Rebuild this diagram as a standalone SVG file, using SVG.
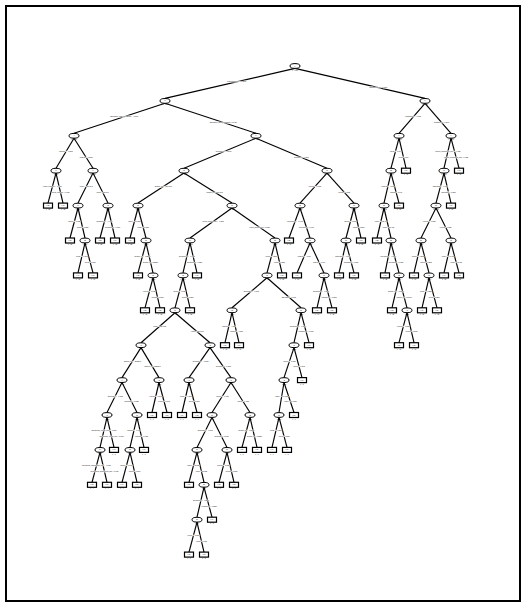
<svg xmlns="http://www.w3.org/2000/svg" width="523" height="604" viewBox="0 0 523 604">
<style>
.c line{stroke:#000;stroke-width:1.15}
.n ellipse{fill:#fff;stroke:#000;stroke-width:1}
.l rect{fill:#fff;stroke:#000;stroke-width:1.2}
text{font-family:"Liberation Sans",Arial,sans-serif;font-size:1.5px;text-anchor:middle;fill:#000}
.lb text{stroke:#fff;stroke-width:0.6;paint-order:stroke}
</style>
<rect x="0" y="0" width="523" height="604" fill="#fff"/>
<rect x="6" y="6" width="514" height="595" fill="none" stroke="#000" stroke-width="2"/>
<g id="connectors" class="c">
<line x1="295" y1="68.4" x2="165" y2="98.4"/><line x1="295" y1="68.4" x2="425" y2="98.4"/>
<line x1="165" y1="103.3" x2="74" y2="133.3"/><line x1="165" y1="103.3" x2="256" y2="133.3"/>
<line x1="425" y1="103.3" x2="399" y2="133.3"/><line x1="425" y1="103.3" x2="451" y2="133.3"/>
<line x1="74" y1="138.2" x2="56" y2="168.2"/><line x1="74" y1="138.2" x2="93" y2="168.2"/>
<line x1="256" y1="138.2" x2="184" y2="168.2"/><line x1="256" y1="138.2" x2="327" y2="168.2"/>
<line x1="399" y1="138.2" x2="391" y2="168.2"/><line x1="399" y1="138.2" x2="406" y2="168.2"/>
<line x1="451" y1="138.2" x2="444" y2="168.2"/><line x1="451" y1="138.2" x2="459" y2="168.2"/>
<line x1="56" y1="173.1" x2="48" y2="203.1"/><line x1="56" y1="173.1" x2="63" y2="203.1"/>
<line x1="93" y1="173.1" x2="78" y2="203.1"/><line x1="93" y1="173.1" x2="108" y2="203.1"/>
<line x1="184" y1="173.1" x2="138" y2="203.1"/><line x1="184" y1="173.1" x2="232" y2="203.1"/>
<line x1="327" y1="173.1" x2="300" y2="203.1"/><line x1="327" y1="173.1" x2="354" y2="203.1"/>
<line x1="391" y1="173.1" x2="384" y2="203.1"/><line x1="391" y1="173.1" x2="399" y2="203.1"/>
<line x1="444" y1="173.1" x2="436" y2="203.1"/><line x1="444" y1="173.1" x2="451" y2="203.1"/>
<line x1="78" y1="208" x2="70" y2="238"/><line x1="78" y1="208" x2="85" y2="238"/>
<line x1="108" y1="208" x2="100" y2="238"/><line x1="108" y1="208" x2="115" y2="238"/>
<line x1="138" y1="208" x2="130" y2="238"/><line x1="138" y1="208" x2="146" y2="238"/>
<line x1="232" y1="208" x2="190" y2="238"/><line x1="232" y1="208" x2="275" y2="238"/>
<line x1="300" y1="208" x2="289" y2="238"/><line x1="300" y1="208" x2="310" y2="238"/>
<line x1="354" y1="208" x2="346" y2="238"/><line x1="354" y1="208" x2="361" y2="238"/>
<line x1="384" y1="208" x2="377" y2="238"/><line x1="384" y1="208" x2="391" y2="238"/>
<line x1="436" y1="208" x2="421" y2="238"/><line x1="436" y1="208" x2="451" y2="238"/>
<line x1="85" y1="242.9" x2="78" y2="272.9"/><line x1="85" y1="242.9" x2="93" y2="272.9"/>
<line x1="146" y1="242.9" x2="138" y2="272.9"/><line x1="146" y1="242.9" x2="153" y2="272.9"/>
<line x1="190" y1="242.9" x2="183" y2="272.9"/><line x1="190" y1="242.9" x2="197" y2="272.9"/>
<line x1="275" y1="242.9" x2="267" y2="272.9"/><line x1="275" y1="242.9" x2="282" y2="272.9"/>
<line x1="310" y1="242.9" x2="297" y2="272.9"/><line x1="310" y1="242.9" x2="324" y2="272.9"/>
<line x1="346" y1="242.9" x2="339" y2="272.9"/><line x1="346" y1="242.9" x2="354" y2="272.9"/>
<line x1="391" y1="242.9" x2="385" y2="272.9"/><line x1="391" y1="242.9" x2="399" y2="272.9"/>
<line x1="421" y1="242.9" x2="414" y2="272.9"/><line x1="421" y1="242.9" x2="429" y2="272.9"/>
<line x1="451" y1="242.9" x2="444" y2="272.9"/><line x1="451" y1="242.9" x2="459" y2="272.9"/>
<line x1="153" y1="277.8" x2="145" y2="307.8"/><line x1="153" y1="277.8" x2="160" y2="307.8"/>
<line x1="183" y1="277.8" x2="175" y2="307.8"/><line x1="183" y1="277.8" x2="190" y2="307.8"/>
<line x1="267" y1="277.8" x2="232" y2="307.8"/><line x1="267" y1="277.8" x2="301" y2="307.8"/>
<line x1="324" y1="277.8" x2="317" y2="307.8"/><line x1="324" y1="277.8" x2="332" y2="307.8"/>
<line x1="399" y1="277.8" x2="392" y2="307.8"/><line x1="399" y1="277.8" x2="407" y2="307.8"/>
<line x1="429" y1="277.8" x2="422" y2="307.8"/><line x1="429" y1="277.8" x2="437" y2="307.8"/>
<line x1="175" y1="312.7" x2="141" y2="342.7"/><line x1="175" y1="312.7" x2="210" y2="342.7"/>
<line x1="232" y1="312.7" x2="225" y2="342.7"/><line x1="232" y1="312.7" x2="239" y2="342.7"/>
<line x1="301" y1="312.7" x2="294" y2="342.7"/><line x1="301" y1="312.7" x2="309" y2="342.7"/>
<line x1="407" y1="312.7" x2="399" y2="342.7"/><line x1="407" y1="312.7" x2="414" y2="342.7"/>
<line x1="141" y1="347.6" x2="122" y2="377.6"/><line x1="141" y1="347.6" x2="159" y2="377.6"/>
<line x1="210" y1="347.6" x2="189" y2="377.6"/><line x1="210" y1="347.6" x2="231" y2="377.6"/>
<line x1="294" y1="347.6" x2="284" y2="377.6"/><line x1="294" y1="347.6" x2="302" y2="377.6"/>
<line x1="122" y1="382.5" x2="107" y2="412.5"/><line x1="122" y1="382.5" x2="137" y2="412.5"/>
<line x1="159" y1="382.5" x2="152" y2="412.5"/><line x1="159" y1="382.5" x2="167" y2="412.5"/>
<line x1="189" y1="382.5" x2="182" y2="412.5"/><line x1="189" y1="382.5" x2="197" y2="412.5"/>
<line x1="231" y1="382.5" x2="212" y2="412.5"/><line x1="231" y1="382.5" x2="250" y2="412.5"/>
<line x1="284" y1="382.5" x2="279" y2="412.5"/><line x1="284" y1="382.5" x2="294" y2="412.5"/>
<line x1="107" y1="417.4" x2="100" y2="447.4"/><line x1="107" y1="417.4" x2="114" y2="447.4"/>
<line x1="137" y1="417.4" x2="130" y2="447.4"/><line x1="137" y1="417.4" x2="144" y2="447.4"/>
<line x1="212" y1="417.4" x2="197" y2="447.4"/><line x1="212" y1="417.4" x2="227" y2="447.4"/>
<line x1="250" y1="417.4" x2="242" y2="447.4"/><line x1="250" y1="417.4" x2="257" y2="447.4"/>
<line x1="279" y1="417.4" x2="272" y2="447.4"/><line x1="279" y1="417.4" x2="287" y2="447.4"/>
<line x1="100" y1="452.3" x2="92" y2="482.3"/><line x1="100" y1="452.3" x2="107" y2="482.3"/>
<line x1="130" y1="452.3" x2="122" y2="482.3"/><line x1="130" y1="452.3" x2="137" y2="482.3"/>
<line x1="197" y1="452.3" x2="189" y2="482.3"/><line x1="197" y1="452.3" x2="204" y2="482.3"/>
<line x1="227" y1="452.3" x2="219" y2="482.3"/><line x1="227" y1="452.3" x2="234" y2="482.3"/>
<line x1="204" y1="487.2" x2="197" y2="517.2"/><line x1="204" y1="487.2" x2="212" y2="517.2"/>
<line x1="197" y1="522.1" x2="189" y2="552.1"/><line x1="197" y1="522.1" x2="204" y2="552.1"/>
<g class="lb">
<text x="236.5" y="82.4">instrumentalness &lt;= 0.0012</text><text x="378.2" y="88.1">instrumentalness &gt; 0.0012</text>
<text x="124.1" y="117.3">danceability_mean_normalized &lt;= 0.5435</text><text x="223.2" y="123">danceability_mean_normalized &gt; 0.5435</text>
<text x="413.3" y="117.3">acousticness &lt;= 0.0846</text><text x="441.6" y="123">acousticness &gt; 0.0846</text>
<text x="65.9" y="152.2">loudness &lt;= -7.2915</text><text x="86.2" y="157.9">loudness &gt; -7.2915</text>
<text x="223.6" y="152.2">speechiness &lt;= 0.0577</text><text x="301.4" y="157.9">speechiness &gt; 0.0577</text>
<text x="395.4" y="152.2">energy &lt;= 0.684</text><text x="403.5" y="157.9">energy &gt; 0.684</text>
<text x="447.9" y="152.2">valence_instrumental_ratio &lt;= 0.4125</text><text x="456.1" y="157.9">valence_instrumental_ratio &gt; 0.4125</text>
<text x="52.4" y="187.1">energy_loudness &lt;= 0.4335</text><text x="60.5" y="192.8">energy_loudness &gt; 0.4335</text>
<text x="86.3" y="187.1">tempo &lt;= 118.0045</text><text x="102.6" y="192.8">tempo &gt; 118.0045</text>
<text x="163.3" y="187.1">duration_ms &lt;= 210453.5</text><text x="214.7" y="192.8">duration_ms &gt; 210453.5</text>
<text x="314.9" y="187.1">liveness &lt;= 0.1505</text><text x="344.3" y="192.8">liveness &gt; 0.1505</text>
<text x="387.9" y="187.1">loudness &lt;= -8.061</text><text x="396.1" y="192.8">loudness &gt; -8.061</text>
<text x="440.4" y="187.1">danceability &lt;= 0.6215</text><text x="448.5" y="192.8">danceability &gt; 0.6215</text>
<text x="74.4" y="222">valence &lt;= 0.3725</text><text x="82.5" y="227.7">valence &gt; 0.3725</text>
<text x="104.4" y="222">acousticness &lt;= 0.4365</text><text x="112.5" y="227.7">acousticness &gt; 0.4365</text>
<text x="134.4" y="222">tempo &lt;= 97.9785</text><text x="143.1" y="227.7">tempo &gt; 97.9785</text>
<text x="213.1" y="222">energy_acousticness &lt;= 0.7265</text><text x="259.5" y="227.7">energy_acousticness &gt; 0.7265</text>
<text x="295.1" y="222">speechiness &lt;= 0.1495</text><text x="306.4" y="227.7">speechiness &gt; 0.1495</text>
<text x="350.4" y="222">valence &lt;= 0.5655</text><text x="358.5" y="227.7">valence &gt; 0.5655</text>
<text x="380.9" y="222">tempo &lt;= 121.498</text><text x="388.5" y="227.7">tempo &gt; 121.498</text>
<text x="429.3" y="222">liveness &lt;= 0.1125</text><text x="445.6" y="227.7">liveness &gt; 0.1125</text>
<text x="81.9" y="256.9">energy &lt;= 0.6105</text><text x="90.1" y="262.6">energy &gt; 0.6105</text>
<text x="142.4" y="256.9">duration_ms &lt;= 185233</text><text x="150.5" y="262.6">duration_ms &gt; 185233</text>
<text x="186.9" y="256.9">acousticness &lt;= 0.0325</text><text x="194.5" y="262.6">acousticness &gt; 0.0325</text>
<text x="271.4" y="256.9">energy &lt;= 0.8515</text><text x="279.5" y="262.6">energy &gt; 0.8515</text>
<text x="304.2" y="256.9">loudness &lt;= -5.339</text><text x="319" y="262.6">loudness &gt; -5.339</text>
<text x="342.9" y="256.9">danceability &lt;= 0.7735</text><text x="351.1" y="262.6">danceability &gt; 0.7735</text>
<text x="388.3" y="256.9">speechiness &lt;= 0.0389</text><text x="396.1" y="262.6">speechiness &gt; 0.0389</text>
<text x="417.9" y="256.9">valence &lt;= 0.2215</text><text x="426.1" y="262.6">valence &gt; 0.2215</text>
<text x="447.9" y="256.9">tempo &lt;= 140.012</text><text x="456.1" y="262.6">tempo &gt; 140.012</text>
<text x="149.4" y="291.8">liveness &lt;= 0.0958</text><text x="157.5" y="297.5">liveness &gt; 0.0958</text>
<text x="179.4" y="291.8">valence &lt;= 0.6385</text><text x="187.5" y="297.5">valence &gt; 0.6385</text>
<text x="251.3" y="291.8">danceability &lt;= 0.6795</text><text x="288.8" y="297.5">danceability &gt; 0.6795</text>
<text x="320.9" y="291.8">acousticness &lt;= 0.1865</text><text x="329.1" y="297.5">acousticness &gt; 0.1865</text>
<text x="395.9" y="291.8">duration_ms &lt;= 243613</text><text x="404.1" y="297.5">duration_ms &gt; 243613</text>
<text x="425.9" y="291.8">energy &lt;= 0.5255</text><text x="434.1" y="297.5">energy &gt; 0.5255</text>
<text x="159.7" y="326.7">tempo &lt;= 126.9975</text><text x="197.4" y="332.4">tempo &gt; 126.9975</text>
<text x="228.9" y="326.7">loudness &lt;= -4.1155</text><text x="236.5" y="332.4">loudness &gt; -4.1155</text>
<text x="297.9" y="326.7">acousticness &lt;= 0.0057</text><text x="306.1" y="332.4">acousticness &gt; 0.0057</text>
<text x="403.4" y="326.7">liveness &lt;= 0.1835</text><text x="411.5" y="332.4">liveness &gt; 0.1835</text>
<text x="132.5" y="361.6">duration_ms &lt;= 227826.5</text><text x="152.5" y="367.3">duration_ms &gt; 227826.5</text>
<text x="200.6" y="361.6">speechiness &lt;= 0.0762</text><text x="223.4" y="367.3">speechiness &gt; 0.0762</text>
<text x="289.5" y="361.6">valence &lt;= 0.3105</text><text x="299.1" y="367.3">valence &gt; 0.3105</text>
<text x="115.3" y="396.5">danceability &lt;= 0.7125</text><text x="131.6" y="402.2">danceability &gt; 0.7125</text>
<text x="155.9" y="396.5">liveness &lt;= 0.2645</text><text x="164.1" y="402.2">liveness &gt; 0.2645</text>
<text x="185.9" y="396.5">energy &lt;= 0.7715</text><text x="194.1" y="402.2">energy &gt; 0.7715</text>
<text x="222.5" y="396.5">valence &lt;= 0.4715</text><text x="243.2" y="402.2">valence &gt; 0.4715</text>
<text x="281.8" y="396.5">tempo &lt;= 104.9985</text><text x="290.4" y="402.2">tempo &gt; 104.9985</text>
<text x="103.9" y="431.4">acousticness_energy_ratio &lt;= 0.0153</text><text x="111.5" y="437.1">acousticness_energy_ratio &gt; 0.0153</text>
<text x="133.9" y="431.4">loudness &lt;= -6.0425</text><text x="141.5" y="437.1">loudness &gt; -6.0425</text>
<text x="205.3" y="431.4">danceability &lt;= 0.5915</text><text x="221.6" y="437.1">danceability &gt; 0.5915</text>
<text x="246.4" y="431.4">duration_ms &lt;= 198720</text><text x="254.5" y="437.1">duration_ms &gt; 198720</text>
<text x="275.9" y="431.4">energy &lt;= 0.8935</text><text x="284.1" y="437.1">energy &gt; 0.8935</text>
<text x="96.4" y="466.3">speechiness_acousticness_ratio &lt;= 0.0481</text><text x="104.5" y="472">speechiness_acousticness_ratio &gt; 0.0481</text>
<text x="126.4" y="466.3">valence &lt;= 0.7665</text><text x="134.5" y="472">valence &gt; 0.7665</text>
<text x="193.4" y="466.3">tempo &lt;= 92.0125</text><text x="201.5" y="472">tempo &gt; 92.0125</text>
<text x="223.4" y="466.3">liveness &lt;= 0.1215</text><text x="231.5" y="472">liveness &gt; 0.1215</text>
<text x="200.9" y="501.2">acousticness &lt;= 0.2875</text><text x="209.1" y="506.9">acousticness &gt; 0.2875</text>
<text x="193.4" y="536.1">energy &lt;= 0.6955</text><text x="201.5" y="541.8">energy &gt; 0.6955</text>
</g>
</g>
<g id="n0" class="n"><ellipse cx="295" cy="66" rx="5" ry="2.4"/><text x="295" y="66.5">1</text><text x="295" y="70.5">n = 1000</text></g>
<g id="n1" class="n"><ellipse cx="165" cy="100.9" rx="5" ry="2.4"/><text x="165" y="101.4">2</text><text x="165" y="105.4">n = 612</text></g>
<g id="n2" class="n"><ellipse cx="425" cy="100.9" rx="5" ry="2.4"/><text x="425" y="101.4">3</text><text x="425" y="105.4">n = 388</text></g>
<g id="n3" class="n"><ellipse cx="74" cy="135.8" rx="5" ry="2.4"/><text x="74" y="136.3">4</text><text x="74" y="140.3">n = 160</text></g>
<g id="n4" class="n"><ellipse cx="256" cy="135.8" rx="5" ry="2.4"/><text x="256" y="136.3">5</text><text x="256" y="140.3">n = 452</text></g>
<g id="n5" class="n"><ellipse cx="399" cy="135.8" rx="5" ry="2.4"/><text x="399" y="136.3">6</text><text x="399" y="140.3">n = 180</text></g>
<g id="n6" class="n"><ellipse cx="451" cy="135.8" rx="5" ry="2.4"/><text x="451" y="136.3">7</text><text x="451" y="140.3">n = 208</text></g>
<g id="n7" class="n"><ellipse cx="56" cy="170.7" rx="5" ry="2.4"/><text x="56" y="171.2">8</text><text x="56" y="175.2">n = 54</text></g>
<g id="n8" class="n"><ellipse cx="93" cy="170.7" rx="5" ry="2.4"/><text x="93" y="171.2">9</text><text x="93" y="175.2">n = 106</text></g>
<g id="n9" class="n"><ellipse cx="184" cy="170.7" rx="5" ry="2.4"/><text x="184" y="171.2">10</text><text x="184" y="175.2">n = 298</text></g>
<g id="n10" class="n"><ellipse cx="327" cy="170.7" rx="5" ry="2.4"/><text x="327" y="171.2">11</text><text x="327" y="175.2">n = 154</text></g>
<g id="n11" class="n"><ellipse cx="391" cy="170.7" rx="5" ry="2.4"/><text x="391" y="171.2">12</text><text x="391" y="175.2">n = 141</text></g>
<g id="n12" class="l"><rect x="401.5" y="168.2" width="9" height="5"/><text x="406" y="171.2">0.61</text><text x="406" y="175.3">n = 39</text></g>
<g id="n13" class="n"><ellipse cx="444" cy="170.7" rx="5" ry="2.4"/><text x="444" y="171.2">13</text><text x="444" y="175.2">n = 171</text></g>
<g id="n14" class="l"><rect x="454.5" y="168.2" width="9" height="5"/><text x="459" y="171.2">0.42</text><text x="459" y="175.3">n = 37</text></g>
<g id="n15" class="l"><rect x="43.5" y="203.1" width="9" height="5"/><text x="48" y="206.1">0.28</text><text x="48" y="210.2">n = 22</text></g>
<g id="n16" class="l"><rect x="58.5" y="203.1" width="9" height="5"/><text x="63" y="206.1">0.47</text><text x="63" y="210.2">n = 32</text></g>
<g id="n17" class="n"><ellipse cx="78" cy="205.6" rx="5" ry="2.4"/><text x="78" y="206.1">14</text><text x="78" y="210.1">n = 58</text></g>
<g id="n18" class="n"><ellipse cx="108" cy="205.6" rx="5" ry="2.4"/><text x="108" y="206.1">15</text><text x="108" y="210.1">n = 48</text></g>
<g id="n19" class="n"><ellipse cx="138" cy="205.6" rx="5" ry="2.4"/><text x="138" y="206.1">16</text><text x="138" y="210.1">n = 71</text></g>
<g id="n20" class="n"><ellipse cx="232" cy="205.6" rx="5" ry="2.4"/><text x="232" y="206.1">17</text><text x="232" y="210.1">n = 227</text></g>
<g id="n21" class="n"><ellipse cx="300" cy="205.6" rx="5" ry="2.4"/><text x="300" y="206.1">18</text><text x="300" y="210.1">n = 83</text></g>
<g id="n22" class="n"><ellipse cx="354" cy="205.6" rx="5" ry="2.4"/><text x="354" y="206.1">19</text><text x="354" y="210.1">n = 71</text></g>
<g id="n23" class="n"><ellipse cx="384" cy="205.6" rx="5" ry="2.4"/><text x="384" y="206.1">20</text><text x="384" y="210.1">n = 112</text></g>
<g id="n24" class="l"><rect x="394.5" y="203.1" width="9" height="5"/><text x="399" y="206.1">0.55</text><text x="399" y="210.2">n = 29</text></g>
<g id="n25" class="n"><ellipse cx="436" cy="205.6" rx="5" ry="2.4"/><text x="436" y="206.1">21</text><text x="436" y="210.1">n = 140</text></g>
<g id="n26" class="l"><rect x="446.5" y="203.1" width="9" height="5"/><text x="451" y="206.1">0.36</text><text x="451" y="210.2">n = 31</text></g>
<g id="n27" class="l"><rect x="65.5" y="238" width="9" height="5"/><text x="70" y="241">0.33</text><text x="70" y="245.1">n = 21</text></g>
<g id="n28" class="n"><ellipse cx="85" cy="240.5" rx="5" ry="2.4"/><text x="85" y="241">22</text><text x="85" y="245">n = 37</text></g>
<g id="n29" class="l"><rect x="95.5" y="238" width="9" height="5"/><text x="100" y="241">0.52</text><text x="100" y="245.1">n = 25</text></g>
<g id="n30" class="l"><rect x="110.5" y="238" width="9" height="5"/><text x="115" y="241">0.74</text><text x="115" y="245.1">n = 23</text></g>
<g id="n31" class="l"><rect x="125.5" y="238" width="9" height="5"/><text x="130" y="241">0.39</text><text x="130" y="245.1">n = 28</text></g>
<g id="n32" class="n"><ellipse cx="146" cy="240.5" rx="5" ry="2.4"/><text x="146" y="241">23</text><text x="146" y="245">n = 43</text></g>
<g id="n33" class="n"><ellipse cx="190" cy="240.5" rx="5" ry="2.4"/><text x="190" y="241">24</text><text x="190" y="245">n = 131</text></g>
<g id="n34" class="n"><ellipse cx="275" cy="240.5" rx="5" ry="2.4"/><text x="275" y="241">25</text><text x="275" y="245">n = 96</text></g>
<g id="n35" class="l"><rect x="284.5" y="238" width="9" height="5"/><text x="289" y="241">0.21</text><text x="289" y="245.1">n = 30</text></g>
<g id="n36" class="n"><ellipse cx="310" cy="240.5" rx="5" ry="2.4"/><text x="310" y="241">26</text><text x="310" y="245">n = 53</text></g>
<g id="n37" class="n"><ellipse cx="346" cy="240.5" rx="5" ry="2.4"/><text x="346" y="241">27</text><text x="346" y="245">n = 44</text></g>
<g id="n38" class="l"><rect x="356.5" y="238" width="9" height="5"/><text x="361" y="241">0.63</text><text x="361" y="245.1">n = 27</text></g>
<g id="n39" class="l"><rect x="372.5" y="238" width="9" height="5"/><text x="377" y="241">0.58</text><text x="377" y="245.1">n = 40</text></g>
<g id="n40" class="n"><ellipse cx="391" cy="240.5" rx="5" ry="2.4"/><text x="391" y="241">28</text><text x="391" y="245">n = 72</text></g>
<g id="n41" class="n"><ellipse cx="421" cy="240.5" rx="5" ry="2.4"/><text x="421" y="241">29</text><text x="421" y="245">n = 76</text></g>
<g id="n42" class="n"><ellipse cx="451" cy="240.5" rx="5" ry="2.4"/><text x="451" y="241">30</text><text x="451" y="245">n = 64</text></g>
<g id="n43" class="l"><rect x="73.5" y="272.9" width="9" height="5"/><text x="78" y="275.9">0.44</text><text x="78" y="280">n = 18</text></g>
<g id="n44" class="l"><rect x="88.5" y="272.9" width="9" height="5"/><text x="93" y="275.9">0.67</text><text x="93" y="280">n = 19</text></g>
<g id="n45" class="l"><rect x="133.5" y="272.9" width="9" height="5"/><text x="138" y="275.9">0.25</text><text x="138" y="280">n = 20</text></g>
<g id="n46" class="n"><ellipse cx="153" cy="275.4" rx="5" ry="2.4"/><text x="153" y="275.9">31</text><text x="153" y="279.9">n = 23</text></g>
<g id="n47" class="n"><ellipse cx="183" cy="275.4" rx="5" ry="2.4"/><text x="183" y="275.9">32</text><text x="183" y="279.9">n = 104</text></g>
<g id="n48" class="l"><rect x="192.5" y="272.9" width="9" height="5"/><text x="197" y="275.9">0.71</text><text x="197" y="280">n = 27</text></g>
<g id="n49" class="n"><ellipse cx="267" cy="275.4" rx="5" ry="2.4"/><text x="267" y="275.9">33</text><text x="267" y="279.9">n = 70</text></g>
<g id="n50" class="l"><rect x="277.5" y="272.9" width="9" height="5"/><text x="282" y="275.9">0.18</text><text x="282" y="280">n = 26</text></g>
<g id="n51" class="l"><rect x="292.5" y="272.9" width="9" height="5"/><text x="297" y="275.9">0.46</text><text x="297" y="280">n = 24</text></g>
<g id="n52" class="n"><ellipse cx="324" cy="275.4" rx="5" ry="2.4"/><text x="324" y="275.9">34</text><text x="324" y="279.9">n = 29</text></g>
<g id="n53" class="l"><rect x="334.5" y="272.9" width="9" height="5"/><text x="339" y="275.9">0.37</text><text x="339" y="280">n = 22</text></g>
<g id="n54" class="l"><rect x="349.5" y="272.9" width="9" height="5"/><text x="354" y="275.9">0.59</text><text x="354" y="280">n = 22</text></g>
<g id="n55" class="l"><rect x="380.5" y="272.9" width="9" height="5"/><text x="385" y="275.9">0.48</text><text x="385" y="280">n = 25</text></g>
<g id="n56" class="n"><ellipse cx="399" cy="275.4" rx="5" ry="2.4"/><text x="399" y="275.9">35</text><text x="399" y="279.9">n = 47</text></g>
<g id="n57" class="l"><rect x="409.5" y="272.9" width="9" height="5"/><text x="414" y="275.9">0.30</text><text x="414" y="280">n = 33</text></g>
<g id="n58" class="n"><ellipse cx="429" cy="275.4" rx="5" ry="2.4"/><text x="429" y="275.9">36</text><text x="429" y="279.9">n = 43</text></g>
<g id="n59" class="l"><rect x="439.5" y="272.9" width="9" height="5"/><text x="444" y="275.9">0.41</text><text x="444" y="280">n = 35</text></g>
<g id="n60" class="l"><rect x="454.5" y="272.9" width="9" height="5"/><text x="459" y="275.9">0.22</text><text x="459" y="280">n = 29</text></g>
<g id="n61" class="l"><rect x="140.5" y="307.8" width="9" height="5"/><text x="145" y="310.8">0.35</text><text x="145" y="314.9">n = 11</text></g>
<g id="n62" class="l"><rect x="155.5" y="307.8" width="9" height="5"/><text x="160" y="310.8">0.58</text><text x="160" y="314.9">n = 12</text></g>
<g id="n63" class="n"><ellipse cx="175" cy="310.3" rx="5" ry="2.4"/><text x="175" y="310.8">37</text><text x="175" y="314.8">n = 82</text></g>
<g id="n64" class="l"><rect x="185.5" y="307.8" width="9" height="5"/><text x="190" y="310.8">0.64</text><text x="190" y="314.9">n = 22</text></g>
<g id="n65" class="n"><ellipse cx="232" cy="310.3" rx="5" ry="2.4"/><text x="232" y="310.8">38</text><text x="232" y="314.8">n = 33</text></g>
<g id="n66" class="n"><ellipse cx="301" cy="310.3" rx="5" ry="2.4"/><text x="301" y="310.8">39</text><text x="301" y="314.8">n = 37</text></g>
<g id="n67" class="l"><rect x="312.5" y="307.8" width="9" height="5"/><text x="317" y="310.8">0.27</text><text x="317" y="314.9">n = 14</text></g>
<g id="n68" class="l"><rect x="327.5" y="307.8" width="9" height="5"/><text x="332" y="310.8">0.50</text><text x="332" y="314.9">n = 15</text></g>
<g id="n69" class="l"><rect x="387.5" y="307.8" width="9" height="5"/><text x="392" y="310.8">0.62</text><text x="392" y="314.9">n = 21</text></g>
<g id="n70" class="n"><ellipse cx="407" cy="310.3" rx="5" ry="2.4"/><text x="407" y="310.8">40</text><text x="407" y="314.8">n = 26</text></g>
<g id="n71" class="l"><rect x="417.5" y="307.8" width="9" height="5"/><text x="422" y="310.8">0.45</text><text x="422" y="314.9">n = 20</text></g>
<g id="n72" class="l"><rect x="432.5" y="307.8" width="9" height="5"/><text x="437" y="310.8">0.26</text><text x="437" y="314.9">n = 23</text></g>
<g id="n73" class="n"><ellipse cx="141" cy="345.2" rx="5" ry="2.4"/><text x="141" y="345.7">41</text><text x="141" y="349.7">n = 41</text></g>
<g id="n74" class="n"><ellipse cx="210" cy="345.2" rx="5" ry="2.4"/><text x="210" y="345.7">42</text><text x="210" y="349.7">n = 41</text></g>
<g id="n75" class="l"><rect x="220.5" y="342.7" width="9" height="5"/><text x="225" y="345.7">0.39</text><text x="225" y="349.8">n = 16</text></g>
<g id="n76" class="l"><rect x="234.5" y="342.7" width="9" height="5"/><text x="239" y="345.7">0.60</text><text x="239" y="349.8">n = 17</text></g>
<g id="n77" class="n"><ellipse cx="294" cy="345.2" rx="5" ry="2.4"/><text x="294" y="345.7">43</text><text x="294" y="349.7">n = 26</text></g>
<g id="n78" class="l"><rect x="304.5" y="342.7" width="9" height="5"/><text x="309" y="345.7">0.17</text><text x="309" y="349.8">n = 11</text></g>
<g id="n79" class="l"><rect x="394.5" y="342.7" width="9" height="5"/><text x="399" y="345.7">0.53</text><text x="399" y="349.8">n = 13</text></g>
<g id="n80" class="l"><rect x="409.5" y="342.7" width="9" height="5"/><text x="414" y="345.7">0.31</text><text x="414" y="349.8">n = 13</text></g>
<g id="n81" class="n"><ellipse cx="122" cy="380.1" rx="5" ry="2.4"/><text x="122" y="380.6">44</text><text x="122" y="384.6">n = 26</text></g>
<g id="n82" class="n"><ellipse cx="159" cy="380.1" rx="5" ry="2.4"/><text x="159" y="380.6">45</text><text x="159" y="384.6">n = 15</text></g>
<g id="n83" class="n"><ellipse cx="189" cy="380.1" rx="5" ry="2.4"/><text x="189" y="380.6">46</text><text x="189" y="384.6">n = 14</text></g>
<g id="n84" class="n"><ellipse cx="231" cy="380.1" rx="5" ry="2.4"/><text x="231" y="380.6">47</text><text x="231" y="384.6">n = 27</text></g>
<g id="n85" class="n"><ellipse cx="284" cy="380.1" rx="5" ry="2.4"/><text x="284" y="380.6">48</text><text x="284" y="384.6">n = 18</text></g>
<g id="n86" class="l"><rect x="297.5" y="377.6" width="9" height="5"/><text x="302" y="380.6">0.43</text><text x="302" y="384.7">n = 8</text></g>
<g id="n87" class="n"><ellipse cx="107" cy="415" rx="5" ry="2.4"/><text x="107" y="415.5">49</text><text x="107" y="419.5">n = 13</text></g>
<g id="n88" class="n"><ellipse cx="137" cy="415" rx="5" ry="2.4"/><text x="137" y="415.5">50</text><text x="137" y="419.5">n = 13</text></g>
<g id="n89" class="l"><rect x="147.5" y="412.5" width="9" height="5"/><text x="152" y="415.5">0.29</text><text x="152" y="419.6">n = 7</text></g>
<g id="n90" class="l"><rect x="162.5" y="412.5" width="9" height="5"/><text x="167" y="415.5">0.57</text><text x="167" y="419.6">n = 8</text></g>
<g id="n91" class="l"><rect x="177.5" y="412.5" width="9" height="5"/><text x="182" y="415.5">0.66</text><text x="182" y="419.6">n = 7</text></g>
<g id="n92" class="l"><rect x="192.5" y="412.5" width="9" height="5"/><text x="197" y="415.5">0.38</text><text x="197" y="419.6">n = 7</text></g>
<g id="n93" class="n"><ellipse cx="212" cy="415" rx="5" ry="2.4"/><text x="212" y="415.5">51</text><text x="212" y="419.5">n = 17</text></g>
<g id="n94" class="n"><ellipse cx="250" cy="415" rx="5" ry="2.4"/><text x="250" y="415.5">52</text><text x="250" y="419.5">n = 10</text></g>
<g id="n95" class="n"><ellipse cx="279" cy="415" rx="5" ry="2.4"/><text x="279" y="415.5">53</text><text x="279" y="419.5">n = 11</text></g>
<g id="n96" class="l"><rect x="289.5" y="412.5" width="9" height="5"/><text x="294" y="415.5">0.51</text><text x="294" y="419.6">n = 7</text></g>
<g id="n97" class="n"><ellipse cx="100" cy="449.9" rx="5" ry="2.4"/><text x="100" y="450.4">54</text><text x="100" y="454.4">n = 8</text></g>
<g id="n98" class="l"><rect x="109.5" y="447.4" width="9" height="5"/><text x="114" y="450.4">0.47</text><text x="114" y="454.5">n = 5</text></g>
<g id="n99" class="n"><ellipse cx="130" cy="449.9" rx="5" ry="2.4"/><text x="130" y="450.4">55</text><text x="130" y="454.4">n = 8</text></g>
<g id="n100" class="l"><rect x="139.5" y="447.4" width="9" height="5"/><text x="144" y="450.4">0.34</text><text x="144" y="454.5">n = 5</text></g>
<g id="n101" class="n"><ellipse cx="197" cy="449.9" rx="5" ry="2.4"/><text x="197" y="450.4">56</text><text x="197" y="454.4">n = 11</text></g>
<g id="n102" class="n"><ellipse cx="227" cy="449.9" rx="5" ry="2.4"/><text x="227" y="450.4">57</text><text x="227" y="454.4">n = 6</text></g>
<g id="n103" class="l"><rect x="237.5" y="447.4" width="9" height="5"/><text x="242" y="450.4">0.56</text><text x="242" y="454.5">n = 5</text></g>
<g id="n104" class="l"><rect x="252.5" y="447.4" width="9" height="5"/><text x="257" y="450.4">0.24</text><text x="257" y="454.5">n = 5</text></g>
<g id="n105" class="l"><rect x="267.5" y="447.4" width="9" height="5"/><text x="272" y="450.4">0.40</text><text x="272" y="454.5">n = 6</text></g>
<g id="n106" class="l"><rect x="282.5" y="447.4" width="9" height="5"/><text x="287" y="450.4">0.69</text><text x="287" y="454.5">n = 5</text></g>
<g id="n107" class="l"><rect x="87.5" y="482.3" width="9" height="5"/><text x="92" y="485.3">0.32</text><text x="92" y="489.4">n = 4</text></g>
<g id="n108" class="l"><rect x="102.5" y="482.3" width="9" height="5"/><text x="107" y="485.3">0.61</text><text x="107" y="489.4">n = 4</text></g>
<g id="n109" class="l"><rect x="117.5" y="482.3" width="9" height="5"/><text x="122" y="485.3">0.49</text><text x="122" y="489.4">n = 4</text></g>
<g id="n110" class="l"><rect x="132.5" y="482.3" width="9" height="5"/><text x="137" y="485.3">0.20</text><text x="137" y="489.4">n = 4</text></g>
<g id="n111" class="l"><rect x="184.5" y="482.3" width="9" height="5"/><text x="189" y="485.3">0.54</text><text x="189" y="489.4">n = 4</text></g>
<g id="n112" class="n"><ellipse cx="204" cy="484.8" rx="5" ry="2.4"/><text x="204" y="485.3">58</text><text x="204" y="489.3">n = 7</text></g>
<g id="n113" class="l"><rect x="214.5" y="482.3" width="9" height="5"/><text x="219" y="485.3">0.37</text><text x="219" y="489.4">n = 3</text></g>
<g id="n114" class="l"><rect x="229.5" y="482.3" width="9" height="5"/><text x="234" y="485.3">0.72</text><text x="234" y="489.4">n = 3</text></g>
<g id="n115" class="n"><ellipse cx="197" cy="519.7" rx="5" ry="2.4"/><text x="197" y="520.2">59</text><text x="197" y="524.2">n = 5</text></g>
<g id="n116" class="l"><rect x="207.5" y="517.2" width="9" height="5"/><text x="212" y="520.2">0.44</text><text x="212" y="524.3">n = 2</text></g>
<g id="n117" class="l"><rect x="184.5" y="552.1" width="9" height="5"/><text x="189" y="555.1">0.30</text><text x="189" y="559.2">n = 3</text></g>
<g id="n118" class="l"><rect x="199.5" y="552.1" width="9" height="5"/><text x="204" y="555.1">0.65</text><text x="204" y="559.2">n = 2</text></g>
</svg>
